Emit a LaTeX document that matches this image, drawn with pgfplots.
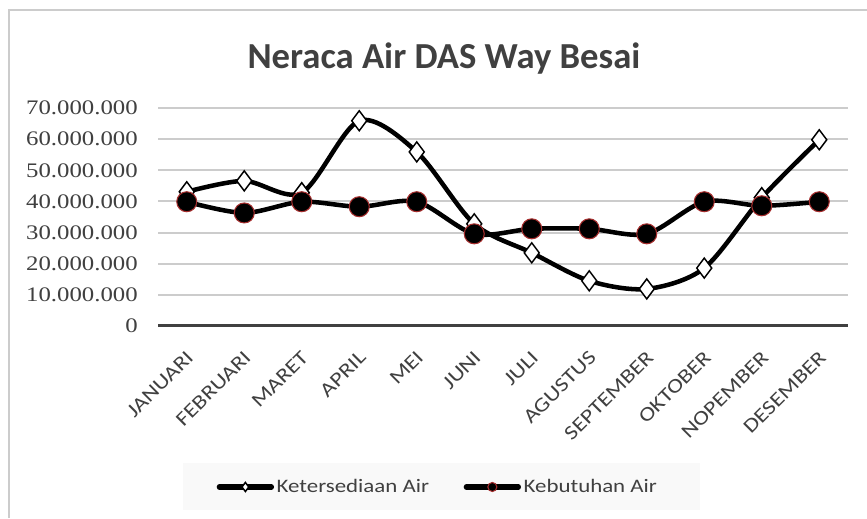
\documentclass[border=0pt]{standalone}
\usepackage{fontspec}
\usepackage{pgfplots}
\pgfplotsset{compat=1.18}
\setmainfont{Carlito}
\newfontfamily\lblfont{Carlito}[FakeStretch=1.2]
\newfontfamily\numfont{Liberation Serif}[FakeStretch=1.2]
\definecolor{txt}{gray}{0.25}
\definecolor{gridc}{gray}{0.80}
\definecolor{mred}{RGB}{165,45,45}
\pgfplotstableread{
x ket keb
0 43100000 39900000
1 46600000 36300000
2 42800000 39900000
3 65900000 38300000
4 55900000 39900000
5 32800000 29600000
6 23500000 31200000
7 14500000 31200000
8 11900000 29600000
9 18600000 39900000
10 41200000 38600000
11 59800000 39900000
}\datatable
\begin{document}
\begin{tikzpicture}
\useasboundingbox (0pt,0pt) rectangle (650.25pt,388.5pt);
\fill[white] (0pt,0pt) rectangle (650.25pt,388.5pt);
\draw[gray!40, line width=1.5pt] (6.75pt,0pt) -- (6.75pt,381pt) -- (650.25pt,381pt);
\node[font=\fontsize{27.5}{31}\selectfont\bfseries, text=black!75] at (333pt,344.5pt) {Neraca Air DAS Way Besai};
\fill[gray!5] (137.25pt,6pt) rectangle (525pt,41.25pt);
\begin{axis}[
  at={(118.5pt,144pt)}, anchor=south west,
  width=517.5pt, height=163.5pt, scale only axis,
  xmin=-0.5, xmax=11.5, ymin=0, ymax=70000000,
  scaled y ticks=false,
  axis line style={draw=none},
  tick style={draw=none},
  ymajorgrids, grid style={gridc, line width=1.4pt},
  xtick={0,...,11},
  xticklabels={JANUARI,FEBRUARI,MARET,APRIL,MEI,JUNI,JULI,AGUSTUS,SEPTEMBER,OKTOBER,NOPEMBER,DESEMBER},
  xticklabel style={font=\fontsize{15}{18}\selectfont, text=txt, xshift=-1pt, yshift=-17.5pt, rotate=45, xscale=1.2, anchor=north east, inner sep=0pt},
  ytick={0,10000000,20000000,30000000,40000000,50000000,60000000,70000000},
  yticklabels={0,10.000.000,20.000.000,30.000.000,40.000.000,50.000.000,60.000.000,70.000.000},
  yticklabel style={font=\numfont\fontsize{15.5}{18}\selectfont, text=txt, anchor=east, inner sep=0pt, xshift=-15pt},
  legend style={at={(0.4060,-0.7385)}, anchor=center, draw=none, fill=none,
    font=\lblfont\fontsize{14.3}{17}\selectfont, text=txt,
    legend columns=2, /tikz/every even column/.append style={column sep=24pt},
    nodes={inner sep=2pt}},
  legend cell align=left,
  legend image code/.code={
    \draw[#1, line width=4pt, mark size=3.4pt, line cap=round, mark repeat=2, mark phase=2] plot coordinates {(0pt,0pt) (19.5pt,0pt) (39pt,0pt)};
  },
]
\draw[black!75, line width=2.4pt] (axis cs:-0.5,0) -- (axis cs:11.5,0);
\addplot[black, line width=3.4pt, smooth, tension=0.5, mark=diamond*,
  mark size=7.5pt, mark options={fill=white, draw=black, line width=1.1pt}]
  table[x=x, y=ket] {\datatable};
\addlegendentry{Ketersediaan Air}
\addplot[black, line width=3.4pt, smooth, tension=0.5, mark=*,
  mark size=7.5pt, mark options={fill=black, draw=mred, line width=0.8pt}]
  table[x=x, y=keb] {\datatable};
\addlegendentry{Kebutuhan Air}
\end{axis}
\end{tikzpicture}
\end{document}
